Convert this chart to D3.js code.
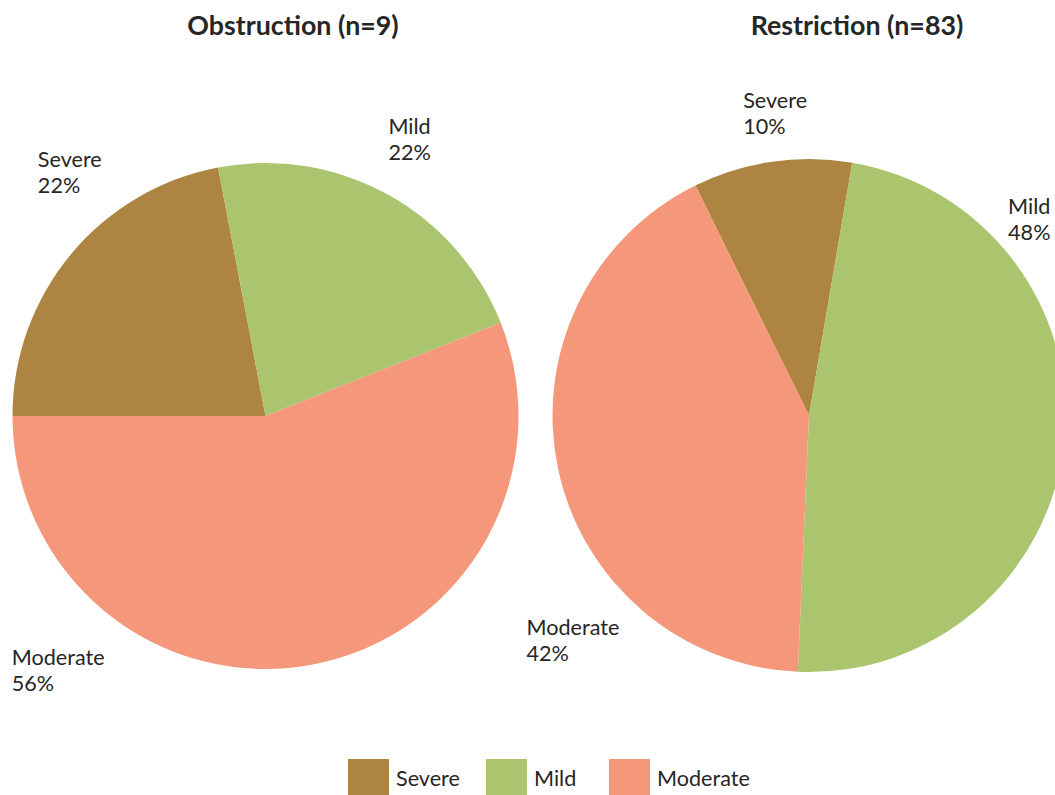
<!DOCTYPE html>
<html>
<head>
<meta charset="utf-8">
<script src="https://cdn.jsdelivr.net/npm/d3@7"></script>
<style>
  body { margin: 0; background: #fff; }
  svg { display: block; font-family: Lato, "Open Sans", sans-serif; }
</style>
</head>
<body>
<svg id="chart" width="1055" height="795"></svg>
<script>
// data
var categories = ["Severe", "Mild", "Moderate"];
var obstructionPct = [22, 22, 56];
var restrictionPct = [10, 48, 42];
var titles = ["Obstruction (n=9)", "Restriction (n=83)"];

var colors = ["#ad8441", "#abc56e", "#f5977a"];
var textColor = "#262626";

// layout for each pie (start angle, label angle/radius in degrees/px)
var pies = [
  { title: titles[0], values: obstructionPct, cx: 265.5, cy: 416, r: 253, start: -90, titleX: 293,
    labelAngle: [-38.7, 27.5, -140.8], labelDist: [313, 312, 328] },
  { title: titles[1], values: restrictionPct, cx: 809, cy: 415.5, r: 256.5, start: -26.3, titleX: 857,
    labelAngle: [-6.4, 48.3, -133.6], labelDist: [304, 295, 326] }
];

var svg = d3.select("#chart");
var color = d3.scaleOrdinal().domain(categories).range(colors);
var rad = function(d) { return d * Math.PI / 180; };

pies.forEach(function(p) {
  var data = categories.map(function(c, i) { return { cat: c, value: p.values[i] }; });

  var pie = d3.pie()
      .sort(null)
      .value(function(d) { return d.value; })
      .startAngle(rad(p.start))
      .endAngle(rad(p.start) + 2 * Math.PI);

  var arc = d3.arc().innerRadius(0).outerRadius(p.r);

  var g = svg.append("g")
      .attr("transform", "translate(" + p.cx + "," + p.cy + ")");

  g.selectAll("path")
    .data(pie(data))
    .join("path")
      .attr("d", arc)
      .attr("fill", function(d) { return color(d.data.cat); });

  // labels, block centred on a point outside the pie
  var labels = g.selectAll("g.label")
    .data(pie(data))
    .join("g")
      .attr("class", "label");

  labels.each(function(d, i) {
    var pt = d3.pointRadial(rad(p.labelAngle[i]), p.labelDist[i]);
    var t = d3.select(this).append("text")
        .attr("fill", textColor)
        .style("font-size", "21.6px");
    t.append("tspan").attr("x", 0).attr("y", 0).text(d.data.cat);
    t.append("tspan").attr("x", 0).attr("y", 26).text(d.data.value + "%");
    var w = this.getBBox().width;
    d3.select(this).attr("transform", "translate(" + (pt[0] - w / 2) + "," + (pt[1] - 5) + ")");
  });

  svg.append("text")
      .attr("x", p.titleX)
      .attr("y", 35)
      .attr("text-anchor", "middle")
      .attr("fill", textColor)
      .style("font-size", "26.8px")
      .style("font-weight", "bold")
      .text(p.title);
});

// legend
var legendX = [348, 486, 609];
var legend = svg.append("g").attr("class", "legend")
  .selectAll("g")
  .data(categories)
  .join("g")
    .attr("transform", function(d, i) { return "translate(" + legendX[i] + ",759)"; });

legend.append("rect")
    .attr("width", 41)
    .attr("height", 37)
    .attr("fill", function(d) { return color(d); });

legend.append("text")
    .attr("x", 48)
    .attr("y", 27)
    .attr("fill", textColor)
    .style("font-size", "21.6px")
    .text(function(d) { return d; });
</script>
</body>
</html>
